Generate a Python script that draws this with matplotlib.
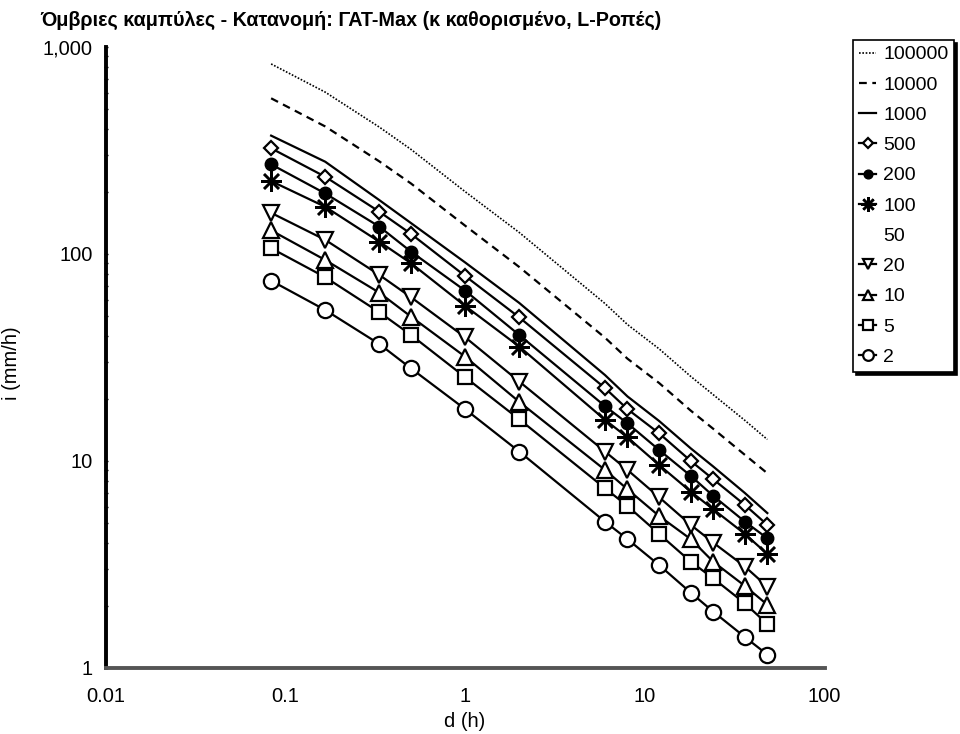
import matplotlib

matplotlib.use("Agg")
import matplotlib.pyplot as plt
from matplotlib.ticker import FixedLocator, FuncFormatter, LogLocator, NullFormatter

plt.rcParams["font.family"] = ["Liberation Sans", "DejaVu Sans"]

# durations in hours: 5, 10, 20, 30 min, then 1 ... 48 h
durations = [5 / 60, 10 / 60, 20 / 60, 30 / 60, 1, 2, 6, 8, 12, 18, 24, 36, 48]

# rainfall intensity (mm/h) per return period
i_100000 = [828, 605, 410, 320, 200, 127, 57.6, 45.6, 34.8, 25.6, 20.9, 15.7, 12.7]
i_10000 = [565, 413, 280, 219, 137, 86.5, 39.4, 31.2, 23.8, 17.5, 14.3, 10.7, 8.72]
i_1000 = [373, 279, 182, 141, 91, 58, 26, 20.5, 15.6, 11.5, 9.4, 7.0, 5.6]
i_500 = [324, 236, 160, 125, 78.3, 49.4, 22.5, 17.8, 13.6, 10.0, 8.16, 6.13, 4.91]
i_200 = [271, 196, 135.5, 102.6, 66.5, 40.6, 18.4, 15.2, 11.3, 8.47, 6.78, 5.09, 4.23]
i_100 = [225, 169, 114.6, 90.2, 56.1, 35.7, 15.8, 13.0, 9.56, 7.11, 5.84, 4.44, 3.55]
i_20 = [158, 117, 79.2, 61.8, 39.6, 24.2, 11.1, 9.05, 6.68, 4.91, 4.03, 3.09, 2.47]
i_10 = [130, 93.5, 65.0, 49.8, 31.9, 19.3, 9.05, 7.30, 5.42, 4.19, 3.26, 2.49, 2.02]
i_5 = [106.6, 77.2, 52.3, 40.6, 25.4, 15.9, 7.38, 6.06, 4.44, 3.26, 2.71, 2.05, 1.63]
i_2 = [74.3, 53.6, 36.7, 28.0, 17.8, 11.1, 5.09, 4.19, 3.14, 2.31, 1.87, 1.41, 1.16]

x_ticks = [0.01, 0.1, 1, 10, 100]
x_tick_labels = ["0.01", "0.1", "1", "10", "100"]
y_ticks = [1, 10, 100, 1000]

fig = plt.figure(figsize=(9.6, 7.34), dpi=100)
ax = fig.add_axes([0.110, 0.090, 0.749, 0.846])

lw = 1.6
hollow = dict(markerfacecolor="white", markeredgecolor="black", markeredgewidth=1.6)

ax.plot(durations, i_100000, color="black", lw=1.2, ls=(0, (1, 1)), label="100000")
ax.plot(durations, i_10000, color="black", lw=1.6, ls=(0, (3.5, 2.5)), label="10000")
ax.plot(durations, i_1000, color="black", lw=lw, label="1000")
ax.plot(durations, i_500, color="black", lw=lw, marker="D", ms=7, label="500", **hollow)
ax.plot(durations, i_200, color="black", lw=lw, marker="o", ms=9, markerfacecolor="black",
        markeredgecolor="black", label="200")
ax.plot(durations, i_100, color="black", lw=lw, marker=(8, 2, 0), ms=15, markeredgewidth=1.8,
        label="100")
# 50-year curve is listed but not drawn
ax.plot([], [], ls="none", marker="none", label="50")
ax.plot(durations, i_20, color="black", lw=lw, marker="v", ms=11, label="20", **hollow)
ax.plot(durations, i_10, color="black", lw=lw, marker="^", ms=11, label="10", **hollow)
ax.plot(durations, i_5, color="black", lw=lw, marker="s", ms=10, label="5", **hollow)
ax.plot(durations, i_2, color="black", lw=lw, marker="o", ms=11, label="2", **hollow)

ax.set_xscale("log")
ax.set_yscale("log")
ax.set_xlim(0.01, 100)
ax.set_ylim(1, 1000)
ax.xaxis.set_major_locator(FixedLocator(x_ticks))
ax.set_xticklabels(x_tick_labels)
ax.yaxis.set_major_locator(FixedLocator(y_ticks))
ax.yaxis.set_major_formatter(FuncFormatter(lambda v, _: f"{v:,.0f}"))
ax.xaxis.set_minor_formatter(NullFormatter())
ax.yaxis.set_minor_formatter(NullFormatter())
ax.yaxis.set_minor_locator(LogLocator(base=10, subs=range(2, 10)))
ax.tick_params(axis="both", which="both", direction="inout", length=3, width=1,
               labelsize=14.5, pad=8)
ax.tick_params(axis="x", which="both", length=0, pad=14)

for side in ("top", "right"):
    ax.spines[side].set_visible(False)
ax.spines["left"].set_linewidth(2.8)
ax.spines["bottom"].set_linewidth(2.8)
ax.spines["bottom"].set_color("#555555")

ax.set_xlabel("d (h)", fontsize=14.5, labelpad=4)
ax.set_ylabel("i (mm/h)", fontsize=14.5)
ax.yaxis.set_label_coords(-0.117, 0.49)

fig.text(0.042, 0.972, "Όμβριες καμπύλες - Κατανομή: ΓΑΤ-Max (κ καθορισμένο, L-Ροπές)",
         fontsize=14.2, fontweight="bold", ha="left", va="center")

leg = ax.legend(loc="upper left", bbox_to_anchor=(853 / 960, 1 - 40 / 734),
                bbox_transform=fig.transFigure, frameon=True, fancybox=False,
                shadow={"color": "black", "alpha": 1.0}, fontsize=14,
                handlelength=0.9, handletextpad=0.35, labelspacing=0.65,
                borderpad=0.3, borderaxespad=0, markerscale=0.7)
leg.get_frame().set_edgecolor("black")
leg.get_frame().set_linewidth(1.2)

fig.savefig("out.png", dpi=100)
plt.close(fig)
